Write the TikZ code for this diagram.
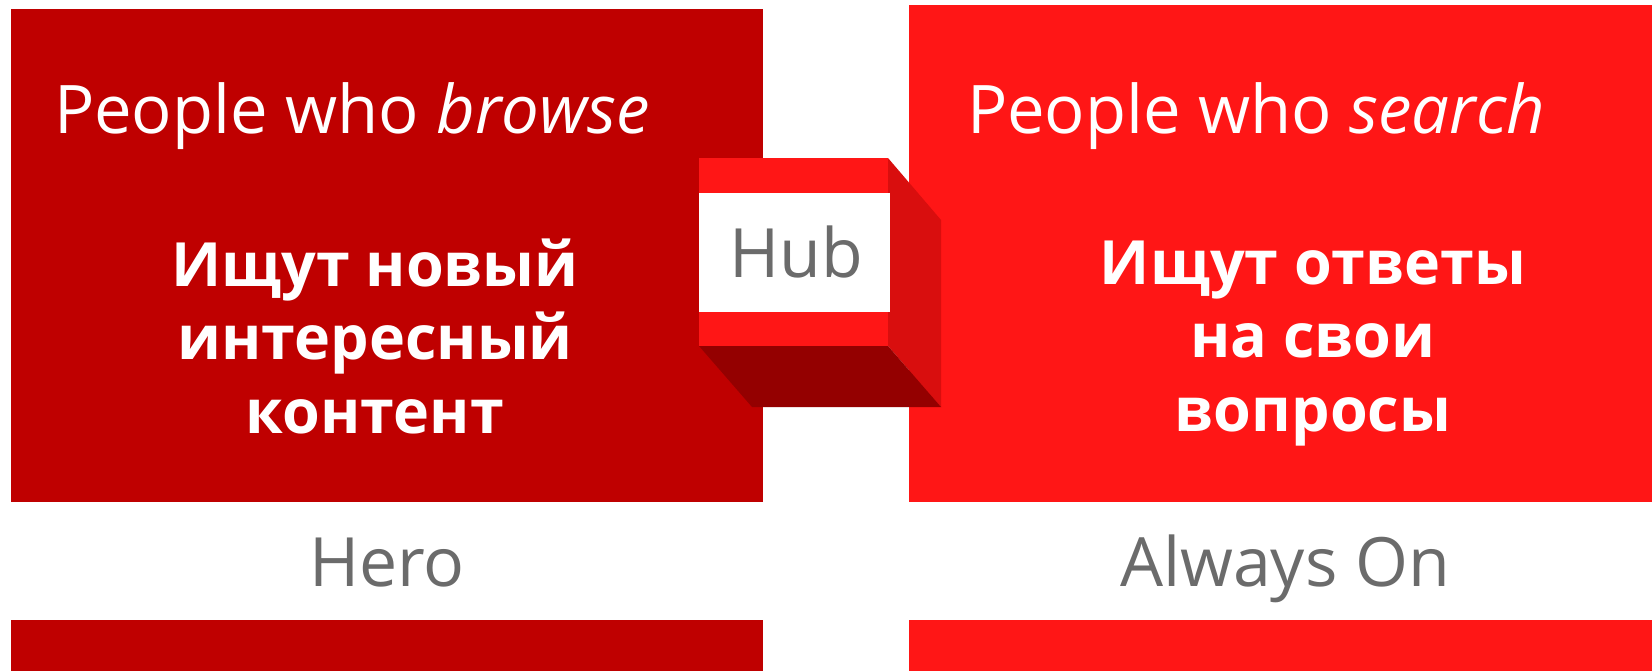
\documentclass[tikz,border=0pt]{standalone}
\usepackage{fontspec}
\setmainfont{Open Sans}
\usetikzlibrary{positioning}
\definecolor{herored}{HTML}{BF0000}
\definecolor{alwaysred}{HTML}{FF1616}
\definecolor{hubside}{HTML}{D90E0E}
\definecolor{hubbottom}{HTML}{940000}
\definecolor{labelgrey}{HTML}{6B6B6B}

\begin{document}
\begin{tikzpicture}[x=0.5pt, y=-0.5pt,
    every node/.style={inner sep=0pt, outer sep=0pt},
    title/.style={white, anchor=base west, font=\fontsize{33.5}{40}\selectfont},
    claim/.style={white, anchor=base, align=center, font=\fontsize{30.5}{36.75}\selectfont\bfseries},
    tag/.style={labelgrey, anchor=base, font=\fontsize{34}{40}\selectfont}]
    \useasboundingbox (0,0) rectangle (1652,671);
    % panels
    \fill[herored] (11,9) rectangle (763,502);
    \fill[alwaysred] (909,5) rectangle (1652,502);
    \fill[herored] (11,620) rectangle (763,671);
    \fill[alwaysred] (909,620) rectangle (1652,671);
    % hub cube
    \coordinate (ftl) at (699,158);
    \coordinate (ftr) at (888,158);
    \coordinate (fbr) at (888,346);
    \coordinate (fbl) at (699,346);
    \coordinate (btr) at (941,220);
    \coordinate (bbr) at (941,407);
    \coordinate (bbl) at (752,407);
    \fill[alwaysred] (ftl) rectangle (fbr);
    \fill[hubside] (ftr) -- (btr) -- (bbr) -- (fbr) -- cycle;
    \fill[hubbottom] (fbl) -- (fbr) -- (bbr) -- (bbl) -- cycle;
    \fill[white] (699,193) rectangle (890,312);
    \node[tag] (hub) at (796,277) {Hub};
    % texts
    \node[title] (browse) at (54,133) {People who \textit{browse}};
    \node[title] (search) at (967,133) {People who \textit{search}};
    \node[claim] (newcontent) at (375,433) {Ищут новый\\интересный\\контент};
    \node[claim] (answers) at (1313,431) {Ищут ответы\\на свои\\вопросы};
    \node[tag] (hero) at (387,586) {Hero};
    \node[tag] (alwayson) at (1285,586) {Always On};
\end{tikzpicture}
\end{document}
